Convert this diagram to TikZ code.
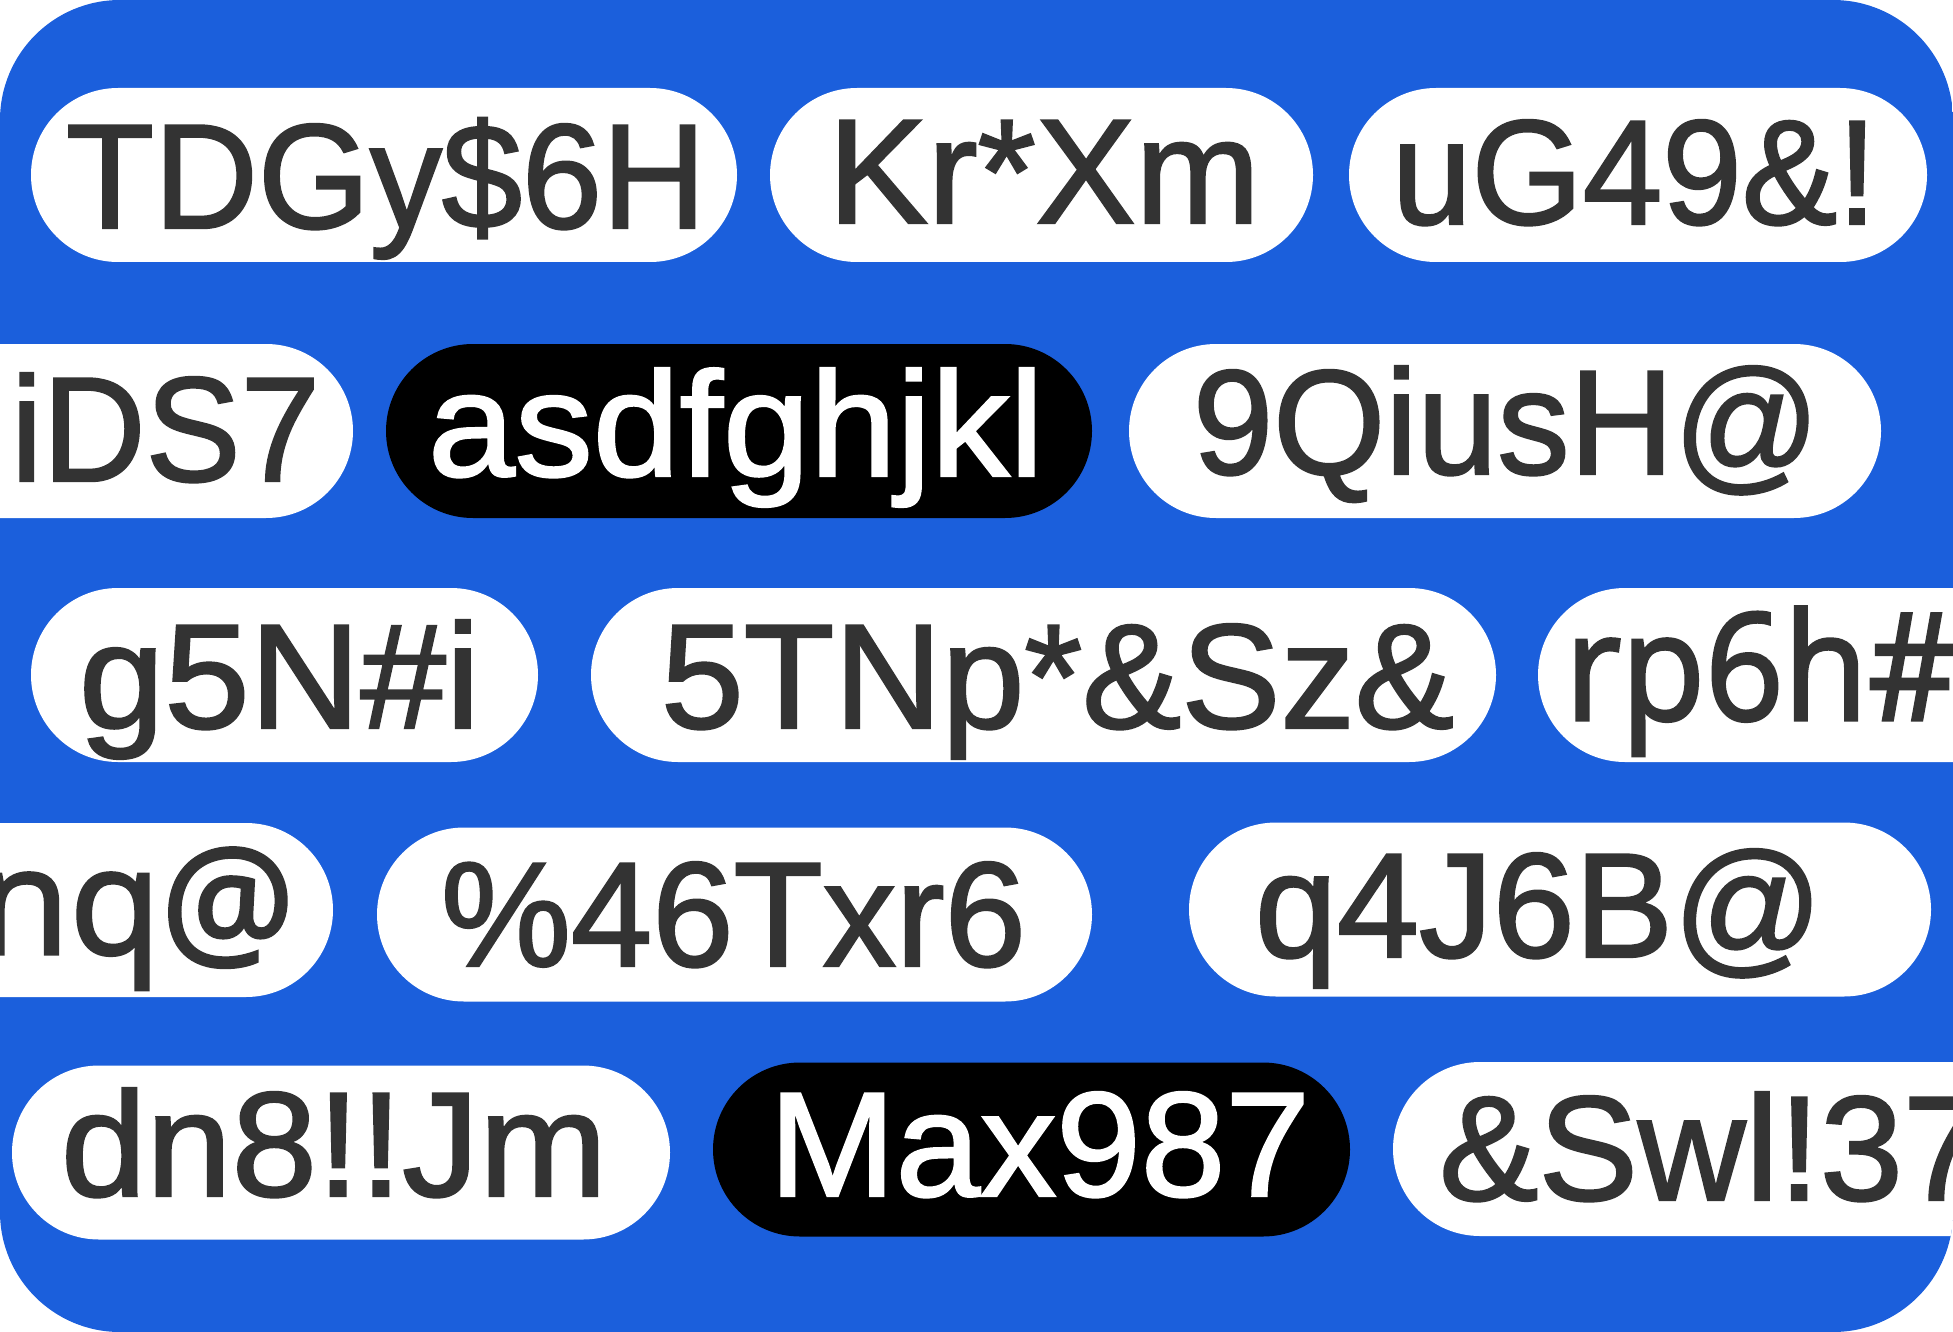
\documentclass[tikz,border=0pt]{standalone}
\usepackage{graphicx}
\usepackage{fontspec}
\setmainfont{Liberation Sans}[RawFeature={embolden=1.6}]
\newfontfamily\osans{Open Sans}[RawFeature={embolden=2.2}]
\definecolor{bgblue}{HTML}{1B5FDC}
\definecolor{inkgray}{HTML}{333333}
\newcommand\fitw[2]{\setbox0\hbox{#2}\pgfmathsetmacro\fitfac{#1/\the\wd0}\scalebox{\fitfac}[1]{#2}}
\tikzset{
  pill/.style={fill=white, draw=none, rounded corners=87pt, inner sep=0pt, minimum height=174pt},
  darkpill/.style={pill, fill=black},
  txt/.style={inner sep=0pt, anchor=base, text=inkgray, font=\fontsize{149}{149}\selectfont},
  wtxt/.style={txt, text=white},
  otxt/.style={txt, font=\osans\fontsize{149}{149}\selectfont}
}
\begin{document}
\begin{tikzpicture}[x=1pt, y=-1pt]
\useasboundingbox (0,0) rectangle (1953,1332);
\fill[white] (0,0) rectangle (1953,1332);
\begin{scope}
\clip[rounded corners=120pt] (0,0) rectangle (1953,1332);
\fill[bgblue] (0,0) rectangle (1953,1332);
% row 1
\node[pill, minimum width=706pt] (p1) at (384,175) {};
\node[pill, minimum width=543pt] (p2) at (1041.5,175) {};
\node[pill, minimum width=578pt] (p3) at (1638,175) {};
\node[txt] (t1) at (386,228) {\fitw{640}{TDGy\$6H}};
\node[txt] (t2) at (1044,223) {\fitw{432}{Kr*Xm}};
\node[txt] (t3) at (1634.5,224) {\fitw{485}{uG49\&!}};
% row 2
\node[pill, minimum width=453pt] (p4) at (126.5,431) {};
\node[darkpill, minimum width=706pt] (p5) at (739,431) {};
\node[pill, minimum width=752pt] (p6) at (1505,431) {};
\node[txt] (t4) at (165.5,481) {\fitw{309}{iDS7}};
\node[wtxt] (t5) at (736,476) {\fitw{616}{asdfghjkl}};
\node[txt] (t6) at (1506.5,474) {\fitw{627}{9QiusH@}};
% row 3
\node[pill, minimum width=507pt] (p7) at (284.5,675) {};
\node[pill, minimum width=905pt] (p8) at (1043.5,675) {};
\node[pill, minimum width=562pt] (p9) at (1819,675) {};
\node[txt] (t7) at (279.5,728) {\fitw{401}{g5N\#i}};
\node[txt] (t8) at (1057.5,728) {\fitw{793}{5TNp*\&Sz\&}};
\node[otxt, anchor=base west] (t9) at (1565,720) {\scalebox{0.92}[1]{rp6h\#}};
% row 4
\node[pill, minimum width=433pt] (p10) at (116.5,910) {};
\node[pill, minimum width=715pt] (p11) at (734.5,914.5) {};
\node[pill, minimum width=742pt] (p12) at (1560,909.5) {};
\node[otxt, anchor=base east] (t10) at (295,954) {nq@};
\node[txt] (t11) at (733.5,966) {\fitw{585}{\%46Txr6}};
\node[txt] (t12) at (1539,957) {\fitw{568}{q4J6B@}};
% row 5
\node[pill, minimum width=658pt] (p13) at (341,1152.5) {};
\node[darkpill, minimum width=637pt] (p14) at (1031.5,1149.5) {};
\node[pill, minimum width=707pt] (p15) at (1746.5,1149) {};
\node[txt] (t13) at (334,1196) {\fitw{546}{dn8!!Jm}};
\node[wtxt] (t14) at (1039.5,1196) {\fitw{541}{Max987}};
\node[txt, anchor=base west] (t15) at (1439,1200) {\&Swl!37};
\end{scope}
\end{tikzpicture}
\end{document}
